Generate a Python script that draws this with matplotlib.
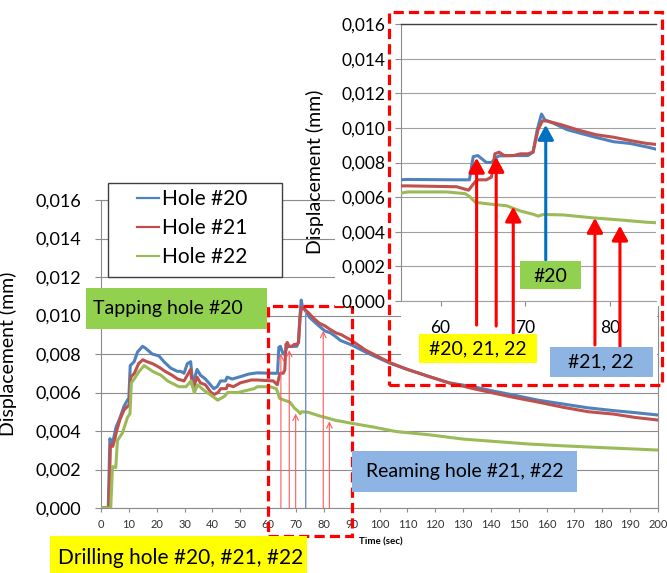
import matplotlib
matplotlib.use('Agg')
import matplotlib.pyplot as plt
from matplotlib.patches import Rectangle

plt.rcParams['font.family'] = ['Lato', 'DejaVu Sans']

# ---------------- data ----------------
series_names = ['Hole #20', 'Hole #21', 'Hole #22']
series_colors = ['#4F81BD', '#C0504D', '#9BBB59']

t20 = [0, 2.6, 3.2, 3.7, 4.5, 5.4, 6.6, 8.3, 9.5, 10.0, 10.5, 11.9, 13.1, 14.9, 16.0,
       18.4, 20.8, 22.6, 25.0, 27.4, 28.6, 29.8, 31.0, 32.2, 32.7, 33.3, 34.5, 35.7,
       37.5, 39.3, 40.5, 41.7, 42.9, 44.7, 45.3, 47.1, 49.5, 53.1, 56.1, 61.9, 63.4,
       63.85, 64.4, 65.4, 66.0, 66.6, 66.9, 68.6, 70.3, 70.9, 71.4, 71.9, 72.3, 73.3,
       74.9, 76.4, 78.4, 80.4, 82.35, 84.3, 86.0, 90, 95, 103.8, 110, 118, 125, 133.7,
       140, 148, 157, 166, 175, 184, 192, 200]
d20 = [0, 0, 0.0036, 0.0034, 0.0036, 0.0042, 0.0046, 0.0053, 0.0056, 0.0057, 0.0074,
       0.0076, 0.0081, 0.0084, 0.0083, 0.0080, 0.0079, 0.0076, 0.00727, 0.0071, 0.0071,
       0.0070, 0.0075, 0.0076, 0.0068, 0.0066, 0.0072, 0.0069, 0.0067, 0.0064, 0.0062,
       0.0063, 0.0066, 0.0066, 0.0068, 0.0067, 0.0068, 0.00696, 0.00702, 0.00700, 0.00700,
       0.00834, 0.0084, 0.0080, 0.0080, 0.0083, 0.00838, 0.0084, 0.0084, 0.0086, 0.0099,
       0.0108, 0.01046, 0.01027, 0.0099, 0.0097, 0.00944, 0.0092, 0.0091, 0.0089, 0.0087,
       0.00847, 0.0081, 0.00752, 0.0072, 0.00682, 0.0065, 0.0063, 0.0061, 0.00587, 0.0056,
       0.0054, 0.0052, 0.00506, 0.00495, 0.00483]

t21 = [0, 2.8, 3.4, 4.2, 5.0, 5.6, 6.8, 8.3, 9.7, 10.2, 10.7, 12.0, 13.5, 15.0, 16.5,
       18.5, 21.0, 23.0, 25.5, 27.5, 29.8, 31.0, 32.2, 32.7, 33.3, 34.5, 35.7, 37.5,
       39.5, 40.7, 42.0, 43.0, 45.0, 45.5, 47.5, 50.0, 54.0, 56.1, 61.9, 63.3, 64.1,
       64.4, 65.4, 66.0, 66.4, 66.9, 67.5, 68.6, 69.4, 70.3, 70.9, 71.5, 72.0, 72.5,
       74.1, 76.4, 78.4, 80.4, 82.35, 84.3, 86.3, 90, 95, 103.8, 110, 118, 125, 133.7,
       140, 148, 157, 166, 175, 184, 192, 200]
d21 = [0, 0, 0.0033, 0.0032, 0.0036, 0.0040, 0.0046, 0.0051, 0.0053, 0.0054, 0.0068,
       0.0070, 0.0075, 0.0077, 0.0076, 0.0075, 0.0073, 0.0071, 0.0069, 0.0067, 0.0066,
       0.0069, 0.0072, 0.0064, 0.0063, 0.0068, 0.0065, 0.0064, 0.0060, 0.0059, 0.0060,
       0.0062, 0.0062, 0.0064, 0.0063, 0.0065, 0.00665, 0.00665, 0.0066, 0.0064, 0.0069,
       0.0070, 0.0070, 0.00716, 0.0085, 0.0086, 0.0084, 0.0084, 0.0085, 0.0085, 0.0086,
       0.0099, 0.0104, 0.0104, 0.0102, 0.00985, 0.0096, 0.00946, 0.00927, 0.0091, 0.0090,
       0.0087, 0.0082, 0.00755, 0.0072, 0.00682, 0.0065, 0.0062, 0.0060, 0.00575, 0.0055,
       0.00523, 0.0050, 0.00488, 0.0047, 0.00457]

t22 = [0, 3.5, 4.1, 5.3, 5.9, 7.7, 9.5, 10.4, 10.9, 11.9, 13.7, 15.5, 18.5, 21.5, 23.9,
       28.0, 30.5, 32.3, 33.5, 34.7, 37.1, 40.1, 41.9, 44.3, 45.5, 49.1, 55.0, 56.1,
       60.7, 62.9, 63.5, 64.1, 65.8, 67.8, 69.4, 71.0, 71.5, 72.1, 74.5, 78.0, 81.2,
       84.3, 86.4, 90, 98, 106, 118, 130, 142, 154, 166, 178, 189, 200]
d22 = [0, 0, 0.00215, 0.0021, 0.0035, 0.0039, 0.0047, 0.0049, 0.0065, 0.0067, 0.0071,
       0.0074, 0.0071, 0.0069, 0.0066, 0.0063, 0.0063, 0.0066, 0.0060, 0.0064, 0.0061,
       0.0058, 0.0056, 0.0058, 0.0060, 0.0060, 0.0062, 0.0063, 0.0063, 0.0062, 0.0060,
       0.0057, 0.0056, 0.0055, 0.0052, 0.0050, 0.0049, 0.0050, 0.00497, 0.0048, 0.00468,
       0.00455, 0.0045, 0.0044, 0.0042, 0.00397, 0.0038, 0.00358, 0.00345, 0.00332,
       0.00323, 0.00315, 0.00308, 0.00301]

y_ticks = [0, 0.002, 0.004, 0.006, 0.008, 0.010, 0.012, 0.014, 0.016]
y_tick_labels = ['0,000', '0,002', '0,004', '0,006', '0,008', '0,010', '0,012', '0,014', '0,016']
x_ticks_main = list(range(0, 201, 10))
x_ticks_inset = [60, 70, 80]

# main-chart event markers (time, value at arrow tip)
main_red_t = [64.6, 67.6, 69.9, 79.8, 82.0]
main_red_tip = [0.0080, 0.0082, 0.0049, 0.0092, 0.0045]
main_blue_t = [73.5]
main_blue_tip = [0.0102]

# inset event markers
inset_red_t = [64.25, 66.56, 68.57, 78.2, 81.15]
inset_red_tip = [0.00827, 0.00832, 0.00545, 0.0048, 0.00435]
inset_red_base = [-0.00139, -0.00145, -0.00185, -0.00254, -0.00266]
inset_blue_t = [72.4]
inset_blue_tip = [0.01017]
inset_blue_base = [0.00237]

# ---------------- layout helpers ----------------
W, H = 667, 573
fig = plt.figure(figsize=(W / 100, H / 100), dpi=100)


def fx(px):
    return px / W


def fy(py):
    return 1 - py / H


def fig_rect(x0, y0, x1, y1, **kw):
    r = Rectangle((fx(x0), fy(y1)), fx(x1) - fx(x0), fy(y0) - fy(y1),
                  transform=fig.transFigure, **kw)
    fig.patches.append(r)
    return r


grid_c = '#8C8C8C'
series = [(t20, d20), (t21, d21), (t22, d22)]

# ---------------- main axes ----------------
ax = fig.add_axes([fx(101), fy(508), (658 - 101) / W, (508 - 200) / H])
ax.set_zorder(0)
for (tt, dd), c, n in zip(series, series_colors, series_names):
    ax.plot(tt, dd, color=c, lw=2.2, label=n, solid_joinstyle='round', zorder=3)
ax.set_xlim(0, 200)
ax.set_ylim(0, 0.016)
ax.set_yticks(y_ticks)
ax.set_yticklabels(y_tick_labels)
ax.set_xticks(x_ticks_main)
ax.set_xticklabels([str(v) for v in x_ticks_main])
ax.grid(axis='y', color=grid_c, lw=0.8)
ax.set_axisbelow(True)
for s in ax.spines.values():
    s.set_color(grid_c)
    s.set_linewidth(0.8)
ax.tick_params(axis='y', labelsize=13, length=4.3, pad=10, color=grid_c, width=0.8)
ax.tick_params(axis='x', labelsize=8, length=3, pad=5, color=grid_c, width=0.8,
               labelcolor='#333333')
ax.set_ylabel('Displacement (mm)', fontsize=14)
ax.yaxis.set_label_coords((17 - 101) / 557, 0.5)
ax.set_xlabel('Time (sec)', fontsize=7, fontweight='bold')
ax.xaxis.set_label_coords(0.503, (508 - 542) / 308)
ax.xaxis.label.set_va('center')

# thin event arrows in main chart
for x, tip in zip(main_red_t, main_red_tip):
    ax.annotate('', xy=(x, tip), xytext=(x, 0),
                arrowprops=dict(arrowstyle='->,head_length=0.4,head_width=0.2',
                                color='#FF5A5A', lw=0.8, shrinkA=0, shrinkB=0,
                                mutation_scale=10), zorder=4)
for x, tip in zip(main_blue_t, main_blue_tip):
    ax.annotate('', xy=(x, tip), xytext=(x, 0),
                arrowprops=dict(arrowstyle='-', color='#6F8FC0', lw=1.0,
                                shrinkA=0, shrinkB=0), zorder=4)

# dashed zoom box on main chart
ax.add_patch(Rectangle((60, -0.00145), 30, 0.0105 + 0.00145, fill=False,
                       edgecolor='#FF0000', lw=2.3, linestyle=(0, (3.2, 1.6)),
                       clip_on=False, zorder=5))

# legend with separate frame
ax.add_patch(Rectangle((fx(108), fy(277)), fx(282) - fx(108), fy(183) - fy(277),
                       transform=fig.transFigure, facecolor='white',
                       edgecolor='#3F3F3F', lw=1.0, clip_on=False, zorder=6))
leg = ax.legend(loc='upper left', bbox_to_anchor=(fx(137), fy(189)),
                bbox_transform=fig.transFigure, frameon=False, fontsize=15,
                borderpad=0, borderaxespad=0, handlelength=1.04,
                handletextpad=0.18, labelspacing=0.44)
leg.set_zorder(7)
for ln in leg.get_lines():
    ln.set_linewidth(1.6)

# ---------------- white background of the inset picture ----------------
fig_rect(335, 0, 667, 306, facecolor='white', edgecolor='none', zorder=1)
fig_rect(401, 300, 657, 357, facecolor='white', edgecolor='none', zorder=1)

# ---------------- inset axes ----------------
axi = fig.add_axes([fx(400.7), fy(301), (656 - 400.7) / W, (301 - 24) / H])
axi.set_zorder(2)
axi.patch.set_alpha(0)
for (tt, dd), c in zip(series, series_colors):
    axi.plot(tt, dd, color=c, lw=2.2, solid_joinstyle='round', zorder=3)
axi.set_xlim(55.3, 85.4)
axi.set_ylim(0, 0.016)
axi.set_yticks(y_ticks)
axi.set_yticklabels(y_tick_labels)
axi.set_xticks(x_ticks_inset)
axi.set_xticklabels([str(v) for v in x_ticks_inset])
axi.grid(axis='y', color='#A0A0A0', lw=0.8)
axi.set_axisbelow(True)
axi.spines['right'].set_visible(False)
axi.spines['top'].set_color('#404040')
axi.spines['top'].set_linewidth(1.0)
axi.spines['left'].set_color(grid_c)
axi.spines['bottom'].set_color('#A0A0A0')
axi.spines['left'].set_linewidth(0.8)
axi.spines['bottom'].set_linewidth(0.8)
axi.tick_params(axis='y', labelsize=12.5, length=4, pad=7, color=grid_c, width=0.8)
axi.tick_params(axis='x', labelsize=12.5, length=3.5, pad=10, color=grid_c, width=0.8)
axi.set_ylabel('Displacement (mm)', fontsize=14)
axi.yaxis.set_label_coords((324 - 400.7) / 255.3, (301 - 172) / 277)

for x, tip, base in zip(inset_red_t, inset_red_tip, inset_red_base):
    axi.annotate('', xy=(x, tip), xytext=(x, base), annotation_clip=False,
                 arrowprops=dict(arrowstyle='-|>,head_length=0.55,head_width=0.3',
                                 color='#FF0000', lw=2.2, shrinkA=0, shrinkB=0,
                                 mutation_scale=16), zorder=5)
for x, tip, base in zip(inset_blue_t, inset_blue_tip, inset_blue_base):
    axi.annotate('', xy=(x, tip), xytext=(x, base), annotation_clip=False,
                 arrowprops=dict(arrowstyle='-|>,head_length=0.55,head_width=0.3',
                                 color='#0070C0', lw=2.2, shrinkA=0, shrinkB=0,
                                 mutation_scale=16), zorder=5)

# ---------------- label boxes ----------------
box_specs = [
    # x0, y0, x1, y1, color, text, text_x, text_y, ha, size
    (86, 288, 267, 329, '#92D050', 'Tapping hole #20', 93, 308.5, 'left', 14),
    (50, 536, 307, 573, '#FFFF00', 'Drilling hole #20, #21, #22', 58, 558, 'left', 15),
    (352, 451, 577, 492, '#8DB4E2', 'Reaming hole #21, #22', 366, 472, 'left', 14),
    (520, 261, 581, 289, '#92D050', '#20', 550.5, 276, 'center', 14),
    (419, 334, 537, 363, '#FFFF00', '#20, 21, 22', 478, 349, 'center', 14),
    (550, 347, 653, 377, '#8DB4E2', '#21, 22', 601, 362, 'center', 14),
]
for x0, y0, x1, y1, col, txt, tx, ty, ha, sz in box_specs:
    fig_rect(x0, y0, x1, y1, facecolor=col, edgecolor='none', zorder=3)
    fig.text(fx(tx), fy(ty), txt, ha=ha, va='center', fontsize=sz, color='black',
             zorder=4)

# dashed frame around the inset picture
fig_rect(389, 12, 662, 385, fill=False, edgecolor='#FF0000', lw=2.3,
         linestyle=(0, (3.2, 1.6)), zorder=5)

fig.savefig('out.png', dpi=100)
